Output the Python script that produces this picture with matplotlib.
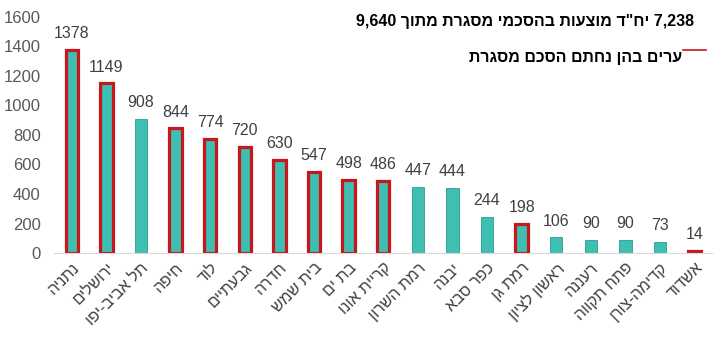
import matplotlib
matplotlib.use('Agg')
import matplotlib.pyplot as plt
from matplotlib.lines import Line2D

plt.rcParams['font.family'] = ['Liberation Sans', 'DejaVu Sans']

cities = ['נתניה', 'ירושלים', 'תל אביב-יפו', 'חיפה', 'לוד', 'גבעתיים', 'חדרה', 'בית שמש',
          'בת ים', 'קריית אונו', 'רמת השרון', 'יבנה', 'כפר סבא', 'רמת גן', 'ראשון לציון',
          'רעננה', 'פתח תקווה', 'קדימה-צורן', 'אשדוד']
units = [1378, 1149, 908, 844, 774, 720, 630, 547, 498, 486, 447, 444, 244, 198, 106, 90, 90, 73, 14]
signed = [1, 1, 0, 1, 1, 1, 1, 1, 1, 1, 0, 0, 0, 1, 0, 0, 0, 0, 1]

title = '7,238 יח"ד מוצעות בהסכמי מסגרת מתוך 9,640'
legend_label = 'ערים בהן נחתם הסכם מסגרת'


def heb(s):
    # matplotlib has no bidi: reverse word order and letters of hebrew words
    out = []
    for w in s.split(' ')[::-1]:
        if any('\u0590' <= c <= '\u05ff' for c in w):
            out.append(w[::-1])
        else:
            out.append(w)
    return ' '.join(out)


teal = '#3fbfb1'
red = '#c8161d'

fig = plt.figure(figsize=(7.17, 3.37), dpi=100)
ax = fig.add_axes([0.076, 0.249, 0.917, 0.701])

x = range(len(cities))
for i, v in enumerate(units):
    if signed[i]:
        ax.bar(i, v, width=0.36, color=teal, edgecolor=red, linewidth=2.3, zorder=2)
    else:
        ax.bar(i, v, width=0.36, color=teal, edgecolor='#2a9e92', linewidth=0.6, zorder=2)
    ax.text(i, v + 60, str(v), ha='center', va='bottom', fontsize=11.5, color='#404040')

ax.set_xlim(-0.5, len(cities) - 0.5)
ax.set_ylim(0, 1600)
ax.set_yticks(range(0, 1601, 200))
ax.tick_params(axis='y', length=0, labelsize=12, labelcolor='#595959', pad=10)
ax.tick_params(axis='x', length=0, pad=5)
ax.set_xticks(list(x))
ax.set_xticklabels([heb(c) for c in cities], rotation=45, ha='right',
                   rotation_mode='anchor', fontsize=11.5, color='#404040')
for s in ['top', 'right', 'left']:
    ax.spines[s].set_visible(False)
ax.spines['bottom'].set_color('#d9d9d9')

fig.text(0.968, 0.935, heb(title), ha='right', va='center', fontsize=11.5,
         fontweight='bold', color='#000000')
fig.text(0.952, 0.83, heb(legend_label), ha='right', va='center', fontsize=11.5,
         fontweight='bold', color='#000000')
fig.lines.append(Line2D([0.953, 0.985], [0.852, 0.852], transform=fig.transFigure,
                        color=red, linewidth=1.2))

fig.savefig('out.png', dpi=100)
